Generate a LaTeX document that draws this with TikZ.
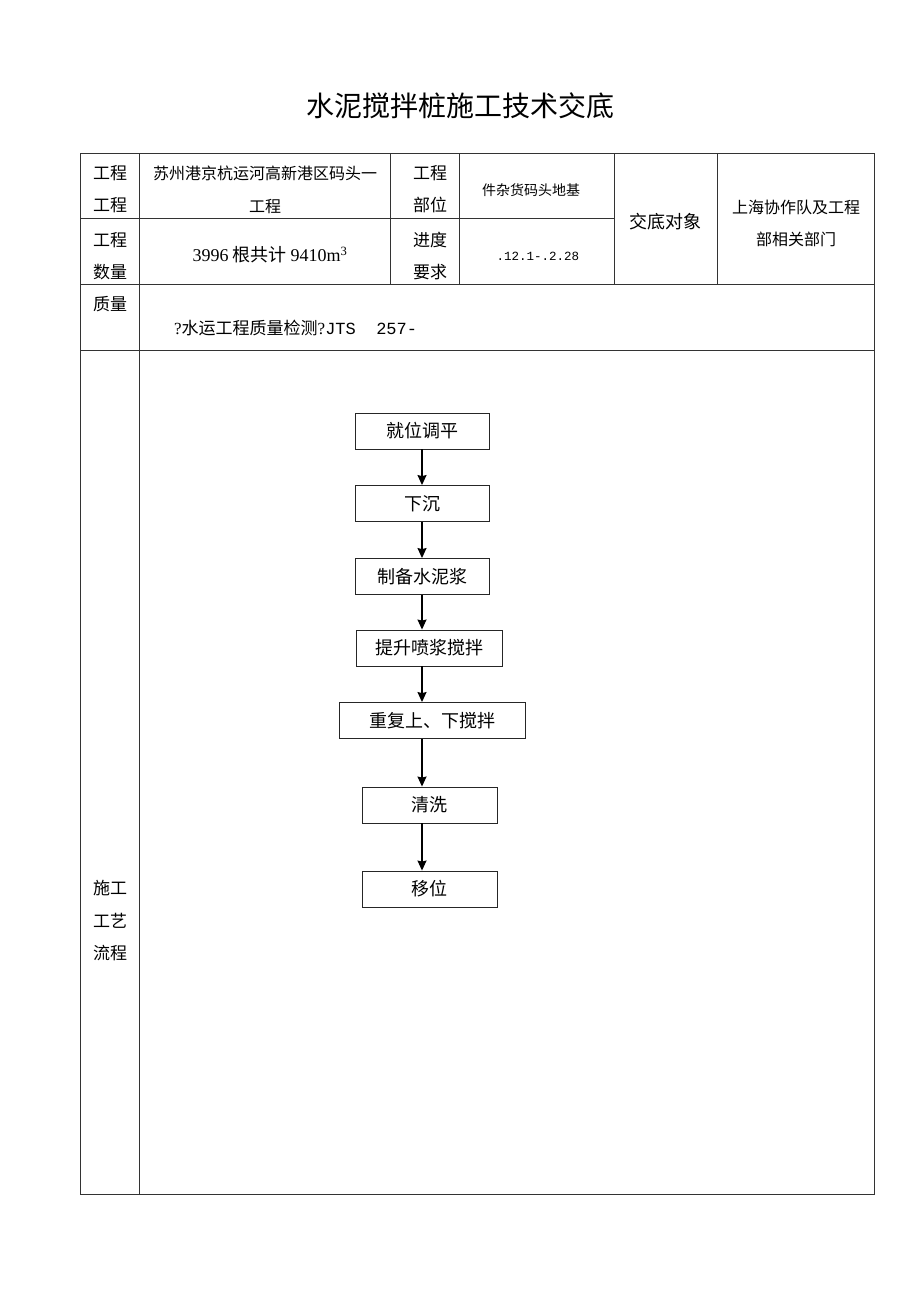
\documentclass[tikz,border=0pt]{standalone}
\usepackage{fontspec}
\setmainfont{Noto Sans CJK SC}
\newfontfamily\lat{Liberation Serif}
\newfontfamily\latmono{Liberation Mono}
\usetikzlibrary{arrows.meta}
\tikzset{
  grid/.style={draw=black!80, line width=0.9pt},
  lbl/.style={inner sep=0pt, align=center, font=\fontsize{17}{32}\selectfont},
  val/.style={inner sep=0pt, align=center, font=\fontsize{16}{33}\selectfont},
  stepbox/.style={draw=black!85, line width=0.9pt, minimum height=36pt, inner sep=0pt, font=\fontsize{18}{20}\selectfont},
  arr/.style={line width=1.3pt, -{Stealth[length=10pt,width=9pt,inset=1pt]}}
}
\begin{document}
\begin{tikzpicture}[x=1pt,y=-1pt]
\useasboundingbox[fill=white] (0,0) rectangle (920,1302);
% title
\node[inner sep=0pt, font=\fontsize{28}{30}\selectfont] (title) at (460,106) {水泥搅拌桩施工技术交底};
% table grid
\draw[grid] (80,153) rectangle (874,1194);
\draw[grid] (139,153) -- (139,1194);
\draw[grid] (390,153) -- (390,284);
\draw[grid] (459,153) -- (459,284);
\draw[grid] (614,153) -- (614,284);
\draw[grid] (717,153) -- (717,284);
\draw[grid] (80,218) -- (614,218);
\draw[grid] (80,284) -- (874,284);
\draw[grid] (80,350) -- (874,350);
% labels
\node[lbl] (l1) at (110,189) {工程\\工程};
\node[lbl] (l2) at (110,256) {工程\\数量};
\node[lbl] (l3) at (110,304) {质量};
\node[lbl] (l4) at (430,189) {工程\\部位};
\node[lbl] (l5) at (430,256) {进度\\要求};
\node[lbl, font=\fontsize{18}{20}\selectfont] (l6) at (665,222) {交底对象};
\node[lbl, font=\fontsize{17}{32.5}\selectfont] (l7) at (110,921) {施工\\工艺\\流程};
% values
\node[val] (v1) at (265,190) {苏州港京杭运河高新港区码头一\\工程};
\node[val, font=\fontsize{18}{20}\selectfont] (v2) at (270,255) {{\lat 3996} 根共计 {\lat 9410m\textsuperscript{3}}};
\node[val, font=\fontsize{14}{16}\selectfont] (v3) at (531,190) {件杂货码头地基};
\node[val, font=\fontsize{12.5}{16}\selectfont] (v4) at (538,256) {\latmono .12.1-.2.28};
\node[val, font=\fontsize{16}{32}\selectfont] (v5) at (796,223) {上海协作队及工程\\部相关部门};
\node[inner sep=0pt, anchor=west, font=\fontsize{17}{20}\selectfont] (v6) at (174,328) {{\lat ?}水运工程质量检测{\lat ?}{\latmono JTS\ \ 257-}};
% flowchart
\node[stepbox, minimum width=134pt] (b1) at (422,431) {就位调平};
\node[stepbox, minimum width=134pt] (b2) at (422,503.5) {下沉};
\node[stepbox, minimum width=134pt] (b3) at (422,576.5) {制备水泥浆};
\node[stepbox, minimum width=146pt] (b4) at (429,648) {提升喷浆搅拌};
\node[stepbox, minimum width=186pt] (b5) at (432,720.5) {重复上、下搅拌};
\node[stepbox, minimum width=135pt] (b6) at (429.5,805) {清洗};
\node[stepbox, minimum width=135pt] (b7) at (429.5,889) {移位};
\draw[arr] (b1.south) -- (b2.north);
\draw[arr] (b2.south) -- (b3.north);
\draw[arr] (b3.south) -- (b4.north -| b3);
\draw[arr] (b4.south -| b3) -- (b5.north -| b3);
\draw[arr] (b5.south -| b3) -- (b6.north -| b3);
\draw[arr] (b6.south -| b3) -- (b7.north -| b3);
\end{tikzpicture}
\end{document}
